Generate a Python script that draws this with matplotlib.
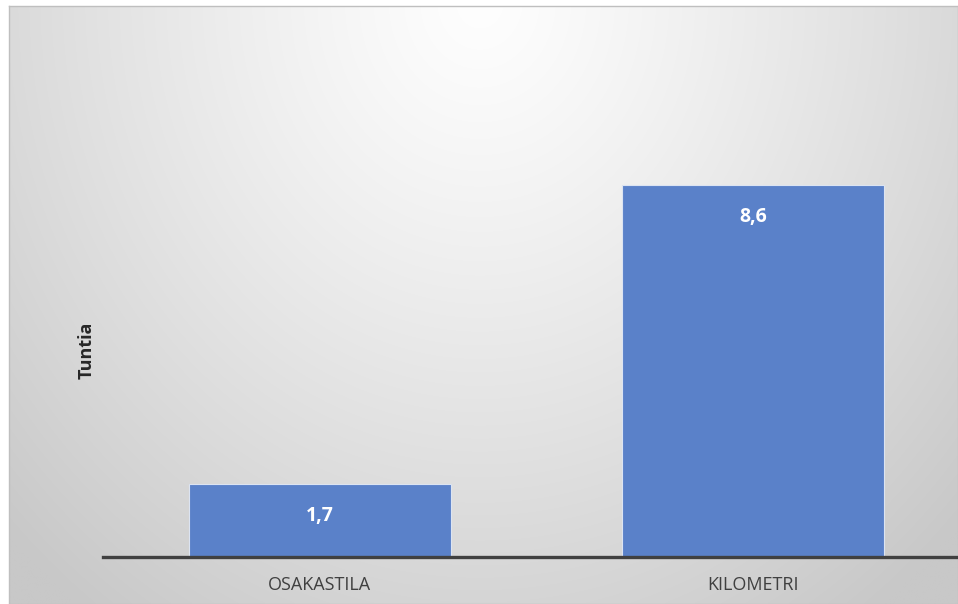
import numpy as np
import matplotlib
matplotlib.use("Agg")
import matplotlib.pyplot as plt

# data
categories = ["OSAKASTILA", "KILOMETRI"]
values = [1.7, 8.6]
value_labels = ["1,7", "8,6"]
ylabel = "Tuntia"

W, H = 958, 604
fig = plt.figure(figsize=(W / 100, H / 100), dpi=100)
fig.patch.set_facecolor("white")

# chart area background: soft radial gradient, white at top centre
bg = fig.add_axes([9 / W, 0, 1 - 9 / W, (H - 6) / H])
xx, yy = np.meshgrid(np.linspace(9, W, 400), np.linspace(6, H, 260))
r = np.sqrt(((xx - 480) / 560.0) ** 2 + (yy / 640.0) ** 2)
shade = np.clip(254 - 44 * r ** 1.2, 200, 255) / 255.0
bg.imshow(np.dstack([shade, shade, shade]), extent=[0, 1, 0, 1],
          aspect="auto", interpolation="bilinear", origin="upper")
bg.set_xlim(0, 1)
bg.set_ylim(0, 1)
bg.set_xticks([])
bg.set_yticks([])
for s in bg.spines.values():
    s.set_color("#bfbfbf")
    s.set_linewidth(1)

# plot area
left, right = 103, 970
top, base = 20, 557
ax = fig.add_axes([left / W, (H - base) / H, (right - left) / W, (base - top) / H])
ax.patch.set_alpha(0)
px_per_unit = 43.2
ax.set_ylim(0, (base - top) / px_per_unit)
ax.set_xlim(-0.5, 1.5)

x = np.arange(len(categories))
bars = ax.bar(x, values, width=0.604, color="#5a81c9", edgecolor="#dce4f2",
              linewidth=0.8, zorder=2)

for b, lab in zip(bars, value_labels):
    ax.text(b.get_x() + b.get_width() / 2, b.get_height() - 0.74, lab,
            ha="center", va="center", color="white", fontsize=14,
            fontweight="bold", family="Open Sans", zorder=3)

ax.set_xticks(x)
ax.set_xticklabels(categories, family="Open Sans", fontsize=13, color="#404040")
ax.tick_params(axis="x", length=0, pad=14)
ax.set_yticks([])
for side in ["top", "right", "left"]:
    ax.spines[side].set_visible(False)
ax.spines["bottom"].set_color("#404040")
ax.spines["bottom"].set_linewidth(2.4)
ax.spines["bottom"].set_zorder(4)

fig.text(87 / W, 1 - 350 / H, ylabel, rotation=90, ha="center", va="center",
         fontsize=13, fontweight="bold", family="Open Sans", color="#262626")

fig.savefig("out.png", dpi=100)
